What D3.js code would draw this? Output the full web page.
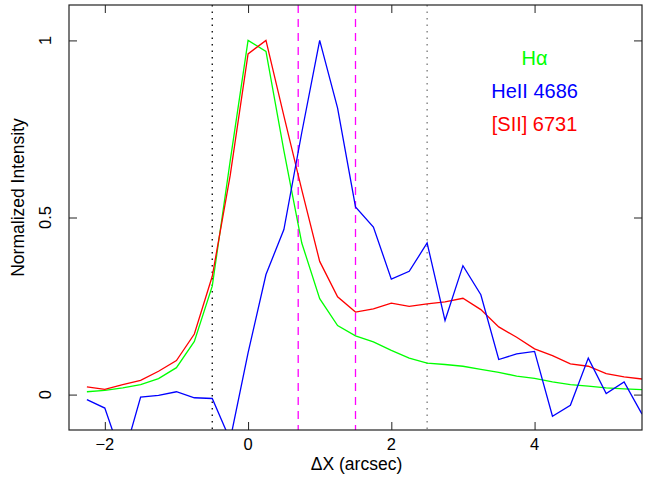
<!DOCTYPE html>
<html>
<head>
<meta charset="utf-8">
<script src="https://cdn.jsdelivr.net/npm/d3@7/dist/d3.min.js"></script>
<style>
  body { margin: 0; background: #fff; }
  text { font-family: "Liberation Sans", Arial, Helvetica, sans-serif; }
</style>
</head>
<body>
<div id="chart"></div>
<script>
var margin = {left: 69, top: 5, right: 7, bottom: 49},
    width = 649 - margin.left - margin.right,
    height = 479 - margin.top - margin.bottom;

// slit positions (arcsec)
var offsets = [-2.25, -2, -1.75, -1.5, -1.25, -1, -0.75, -0.5, -0.25, 0, 0.25, 0.5, 0.75, 1, 1.25, 1.5,
               1.75, 2, 2.25, 2.5, 2.75, 3, 3.25, 3.5, 3.75, 4, 4.25, 4.5, 4.75, 5, 5.25, 5.5];

var halpha = [0.008, 0.012, 0.019, 0.028, 0.045, 0.076, 0.150, 0.306, 0.659, 1.0, 0.969, 0.689, 0.428, 0.271, 0.195, 0.166,
              0.149, 0.125, 0.103, 0.089, 0.085, 0.080, 0.071, 0.063, 0.052, 0.046, 0.036, 0.028, 0.024, 0.019, 0.016, 0.014];

var heii = [-0.014, -0.038, -0.185, -0.007, -0.002, 0.008, -0.009, -0.011, -0.128, 0.118, 0.339, 0.466, 0.74, 1.0, 0.809, 0.530,
            0.473, 0.326, 0.348, 0.428, 0.209, 0.364, 0.282, 0.099, 0.115, 0.122, -0.061, -0.030, 0.103, 0.003, 0.036, -0.055];

var sii = [0.022, 0.015, 0.028, 0.040, 0.066, 0.096, 0.171, 0.334, 0.618, 0.962, 1.0, 0.787, 0.578, 0.376, 0.276, 0.233,
           0.242, 0.258, 0.249, 0.256, 0.262, 0.272, 0.240, 0.191, 0.162, 0.129, 0.110, 0.087, 0.080, 0.059, 0.050, 0.044];

var seriesNames = ['H\u03b1', 'HeII 4686', '[SII] 6731'];
var seriesColors = ['#00ff00', '#0000ff', '#ff0000'];

var markerX = [-0.5, 0.7, 1.5, 2.5];
var xTicks = [-2, 0, 2, 4];
var yTicks = [0, 0.5, 1];

var x = d3.scaleLinear().domain([-2.5, 5.5]).range([0, width]);
var y = d3.scaleLinear().domain([-0.1, 1.1]).range([height, 0]);

var svg = d3.select("#chart").append("svg")
    .attr("width", width + margin.left + margin.right)
    .attr("height", height + margin.top + margin.bottom);

var g = svg.append("g")
    .attr("transform", "translate(" + margin.left + "," + margin.top + ")");

g.append("clipPath").attr("id", "clip")
    .append("rect").attr("width", width).attr("height", height);

// ticks on all four sides, pointing inwards
function ticks(axis, scale, vals, len) {
    return axis(scale).tickValues(vals).tickSize(-len).tickFormat("");
}
var minorX = d3.range(-2, 6, 1), minorY = d3.range(-0.1, 1.101, 0.1);
[[d3.axisBottom, "translate(0," + height + ")"], [d3.axisTop, null]].forEach(function(a) {
    var ax = g.append("g").attr("transform", a[1]);
    ax.call(ticks(a[0], x, minorX, 4));
    ax.call(ticks(a[0], x, xTicks, 8));
});
[[d3.axisLeft, null], [d3.axisRight, "translate(" + width + ",0)"]].forEach(function(a) {
    var ax = g.append("g").attr("transform", a[1]);
    ax.call(ticks(a[0], y, minorY, 4));
    ax.call(ticks(a[0], y, yTicks, 8));
});
g.selectAll(".domain").remove();
g.selectAll(".tick line").attr("stroke", "#222").attr("stroke-width", 1);

// tick labels
g.selectAll("text.xlab")
    .data(xTicks).enter().append("text")
    .attr("class", "xlab")
    .attr("x", function(d) { return x(d); })
    .attr("y", height + 20)
    .attr("text-anchor", "middle")
    .style("font-size", "16.5px")
    .text(d3.format(""));

g.selectAll("text.ylab")
    .data(yTicks).enter().append("text")
    .attr("class", "ylab")
    .attr("transform", function(d) { return "translate(-18," + y(d) + ") rotate(-90)"; })
    .attr("text-anchor", "middle")
    .style("font-size", "16.5px")
    .text(function(d) { return d; });

g.append("text")
    .attr("x", width / 2 + 1)
    .attr("y", height + 40)
    .attr("text-anchor", "middle")
    .style("font-size", "17.5px")
    .text("\u0394X (arcsec)");

g.append("text")
    .attr("transform", "translate(-45," + (height / 2 - 20) + ") rotate(-90)")
    .attr("text-anchor", "middle")
    .style("font-size", "17.5px")
    .text("Normalized Intensity");

// vertical reference lines
var markerStyle = [
    {stroke: "#000", dash: "1.5,5"},
    {stroke: "#ff00ff", dash: "8,6"},
    {stroke: "#ff00ff", dash: "8,6"},
    {stroke: "#777", dash: "1.5,5"}
];
g.selectAll("line.marker")
    .data(markerX).enter().append("line")
    .attr("class", "marker")
    .attr("x1", function(d) { return x(d); })
    .attr("x2", function(d) { return x(d); })
    .attr("y1", 0).attr("y2", height)
    .attr("stroke", function(d, i) { return markerStyle[i].stroke; })
    .attr("stroke-width", 1.3)
    .attr("stroke-dasharray", function(d, i) { return markerStyle[i].dash; });

// profiles
var line = d3.line()
    .x(function(d, i) { return x(offsets[i]); })
    .y(function(d) { return y(d); });

g.append("g").attr("clip-path", "url(#clip)")
    .selectAll("path.profile")
    .data([halpha, sii, heii]).enter().append("path")
    .attr("class", "profile")
    .attr("fill", "none")
    .attr("stroke", function(d, i) { return [seriesColors[0], seriesColors[2], seriesColors[1]][i]; })
    .attr("stroke-width", 1.3)
    .attr("d", line);

// frame
g.append("rect")
    .attr("width", width).attr("height", height)
    .attr("fill", "none")
    .attr("stroke", "#222")
    .attr("stroke-width", 1.2);

// legend
var legendY = [0.931, 0.838, 0.745];
g.selectAll("text.legend")
    .data(seriesNames).enter().append("text")
    .attr("class", "legend")
    .attr("x", x(4))
    .attr("y", function(d, i) { return y(legendY[i]); })
    .attr("text-anchor", "middle")
    .style("font-size", "20px")
    .attr("fill", function(d, i) { return seriesColors[i]; })
    .text(function(d) { return d; });
</script>
</body>
</html>
